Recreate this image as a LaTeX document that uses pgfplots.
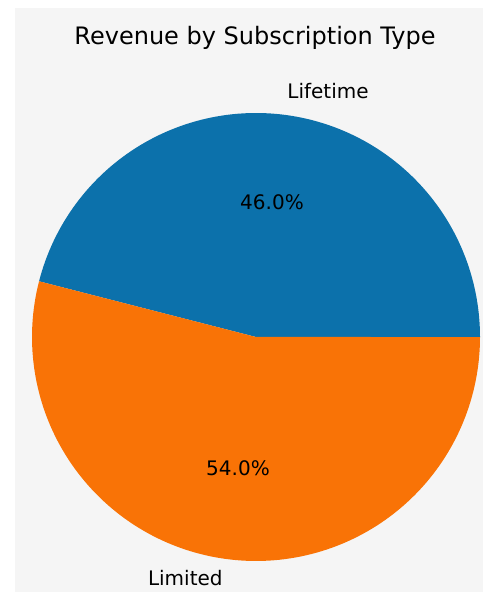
\documentclass[border=0pt]{standalone}
\usepackage{pgfplots}
\usepackage{pgfplotstable}
\pgfplotsset{compat=1.18}
\usepackage{fontspec}
\setmainfont{DejaVu Sans}
\definecolor{bggray}{HTML}{F5F5F5}
\definecolor{pieblue}{HTML}{0C71AB}
\definecolor{pieorange}{HTML}{F97306}
\pgfplotstableread{
label value
Lifetime 46.0
Limited 54.0
}\piedata
\pgfplotstablegetelem{0}{value}\of\piedata
\pgfmathsetmacro{\angA}{\pgfplotsretval*3.6}
\begin{document}
\begin{tikzpicture}
\begin{axis}[
  scale only axis, width=241.5pt, height=296pt,
  xmin=0, xmax=483, ymin=0, ymax=592,
  hide axis, clip=false,
]
\fill[white] (0,0) rectangle (483,592);
\fill[bggray] (15,0) rectangle (483,584);
\addplot[draw=none, fill=pieblue, domain=0:\angA, samples=120, variable=\t]
  ({256+224*cos(\t)},{255+224*sin(\t)}) -- (256,255) -- cycle;
\addplot[draw=none, fill=pieorange, domain=\angA:360, samples=140, variable=\t]
  ({256+224*cos(\t)},{255+224*sin(\t)}) -- (256,255) -- cycle;
\node[anchor=base, font=\fontsize{12}{14}\selectfont, inner sep=0pt] at (255,547) {Revenue by Subscription Type};
\node[anchor=base west, font=\fontsize{10}{12}\selectfont, inner sep=0pt] at (287,493) {Lifetime};
\node[anchor=base east, font=\fontsize{10}{12}\selectfont, inner sep=0pt] at (223,6) {Limited};
\node[anchor=base, font=\fontsize{10}{12}\selectfont, inner sep=0pt] at (272,382) {46.0\%};
\node[anchor=base, font=\fontsize{10}{12}\selectfont, inner sep=0pt] at (238,116) {54.0\%};
\end{axis}
\end{tikzpicture}
\end{document}
